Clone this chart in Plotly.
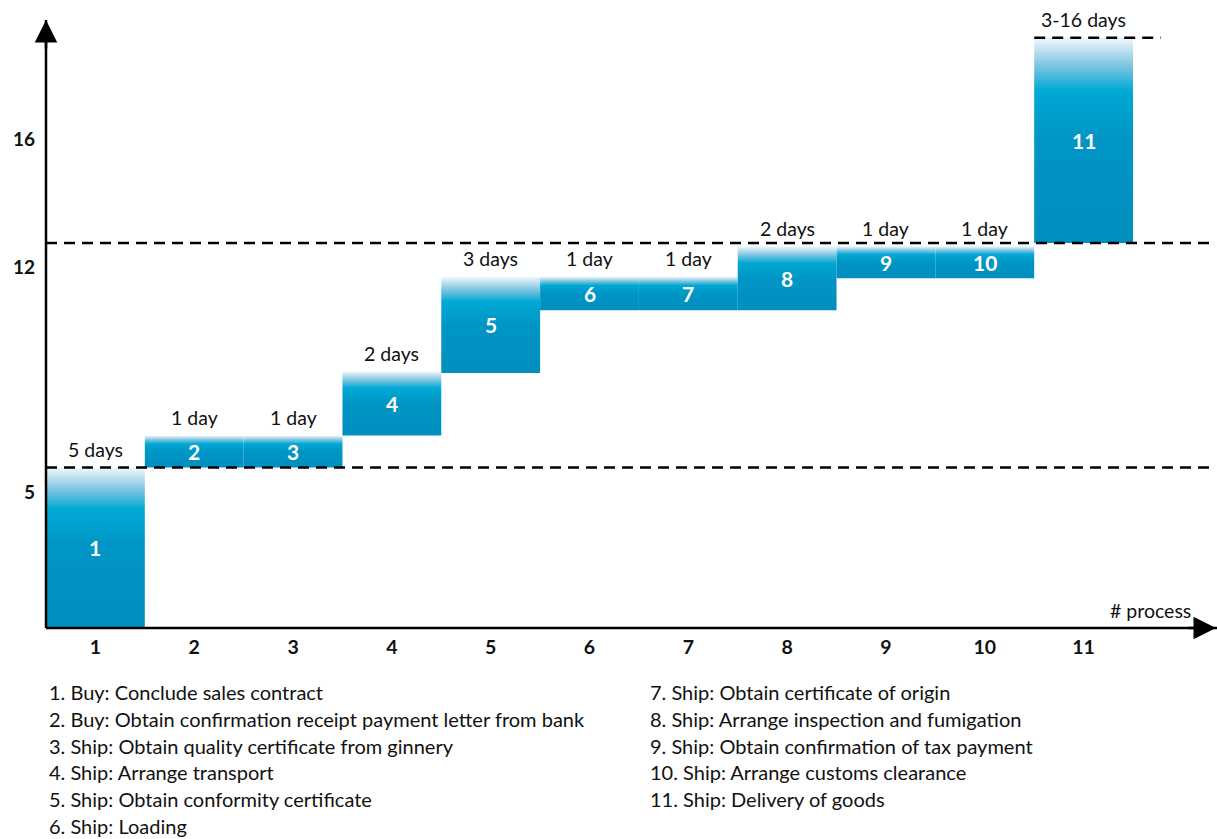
import plotly.graph_objects as go

# ---- data ----
processes = [1, 2, 3, 4, 5, 6, 7, 8, 9, 10, 11]
start_day = [0, 5, 5, 6, 7.95, 9.9, 9.9, 9.9, 10.9, 10.9, 12]
duration = [5, 1, 1, 2, 3, 1.05, 1.05, 2, 1, 1, 6.4]
duration_labels = ["5 days", "1 day", "1 day", "2 days", "3 days", "1 day", "1 day",
                   "2 days", "1 day", "1 day", "3-16 days"]
y_tick_vals = [5, 12, 16]
y_tick_text = ["5", "12", "16"]
ref_lines = [5, 12]
descriptions = [
    "1. Buy: Conclude sales contract",
    "2. Buy: Obtain confirmation receipt payment letter from bank",
    "3. Ship: Obtain quality certificate from ginnery",
    "4. Ship: Arrange transport",
    "5. Ship: Obtain conformity certificate",
    "6. Ship: Loading",
    "7. Ship: Obtain certificate of origin",
    "8. Ship: Arrange inspection and fumigation",
    "9. Ship: Obtain confirmation of tax payment",
    "10. Ship: Arrange customs clearance",
    "11. Ship: Delivery of goods",
]

FONT = "Lato"
W, H = 1217, 839
L, R, T, B = 46, 0, 20, 211
PW, PH = W - L - R, H - T - B
X_MAX = 12.35
Y_MAX = 18.95

grad = [[0.0, "#008fbf"], [0.5, "#0095c5"], [0.74, "#00a9d4"],
        [0.86, "#7ac3e0"], [1.0, "#f3f8fc"]]

fig = go.Figure()
for p, s, d in zip(processes, start_day, duration):
    fig.add_trace(go.Scatter(
        x=[p - 0.5, p + 0.5, p + 0.5, p - 0.5, p - 0.5],
        y=[s, s, s + d, s + d, s],
        mode="lines", fill="toself", line=dict(width=0),
        fillgradient=dict(type="vertical", colorscale=grad),
        hoverinfo="skip", showlegend=False,
    ))

annotations = []
for p, s, d, lab in zip(processes, start_day, duration, duration_labels):
    annotations.append(dict(x=p, y=s + d, xref="x", yref="y", text=lab, showarrow=False,
                            yanchor="middle", yshift=18,
                            font=dict(family=FONT, size=19.5, color="#111")))
    annotations.append(dict(x=p, y=s + d / 2, xref="x", yref="y", text=str(p), showarrow=False,
                            yanchor="middle",
                            font=dict(family=FONT, size=21, color="white", weight="bold")))

for v, t in zip(y_tick_vals, y_tick_text):
    annotations.append(dict(x=0, y=v, xref="paper", yref="y", text=t, showarrow=False,
                            xanchor="right", xshift=-9, yshift=-24, yanchor="middle",
                            font=dict(family=FONT, size=19, color="#111", weight="bold")))

def px_x(px):
    return (px - L) / PW

def px_y(py):
    return (H - B - py) / PH

annotations.append(dict(x=px_x(1150), y=px_y(610), xref="paper", yref="paper", text="# process",
                        showarrow=False, xanchor="center", yanchor="middle",
                        font=dict(family=FONT, size=19.5, color="#111")))

# axis arrows
annotations.append(dict(x=1, y=0, xref="paper", yref="paper", ax=-30, ay=0, text="",
                        showarrow=True, arrowhead=2, arrowsize=1.8, arrowwidth=2.5,
                        arrowcolor="black", standoff=0))
annotations.append(dict(x=0, y=1, xref="paper", yref="paper", ax=0, ay=30, text="",
                        showarrow=True, arrowhead=2, arrowsize=1.8, arrowwidth=2.5,
                        arrowcolor="black", standoff=0))

# description list
for i, txt in enumerate(descriptions):
    col = 0 if i < 6 else 1
    row = i if i < 6 else i - 6
    xpx = 47 if col == 0 else 648
    ypx = 692 + row * 26.8
    annotations.append(dict(x=px_x(xpx), y=px_y(ypx), xref="paper", yref="paper", text=txt,
                            showarrow=False, xanchor="left", yanchor="middle",
                            font=dict(family=FONT, size=20, color="#111")))

shapes = []
for v in ref_lines:
    shapes.append(dict(type="line", xref="paper", yref="y", x0=0, x1=px_x(1215), y0=v, y1=v,
                       line=dict(color="black", width=2.5, dash="11px,7px"), layer="above"))
top11 = start_day[-1] + duration[-1]
shapes.append(dict(type="line", xref="x", yref="y", x0=processes[-1] - 0.5, x1=processes[-1] + 0.78,
                   y0=top11, y1=top11,
                   line=dict(color="black", width=2.5, dash="11px,7px"), layer="above"))
# axis lines
shapes.append(dict(type="line", xref="paper", yref="paper", x0=0, x1=1, y0=0, y1=0,
                   line=dict(color="black", width=2.5), layer="above"))
shapes.append(dict(type="line", xref="paper", yref="paper", x0=0, x1=0, y0=0, y1=1,
                   line=dict(color="black", width=2.5), layer="above"))

fig.update_layout(
    width=W, height=H,
    margin=dict(l=L, r=R, t=T, b=B, pad=0),
    paper_bgcolor="white", plot_bgcolor="white",
    xaxis=dict(range=[0.5, X_MAX], tickvals=processes, ticktext=[str(p) for p in processes],
               showgrid=False, zeroline=False, showline=False, ticks="",
               tickfont=dict(family=FONT, size=19.5, color="#111", weight="bold"),
               ticklabelstandoff=5, fixedrange=True),
    yaxis=dict(range=[0, Y_MAX], showticklabels=False, showgrid=False, zeroline=False,
               showline=False, ticks="", fixedrange=True),
    annotations=annotations, shapes=shapes, showlegend=False,
)

fig.write_html(
    "out.html",
    config={"displayModeBar": False},
    post_script="document.body.style.margin='0';document.body.style.overflow='hidden';",
)
